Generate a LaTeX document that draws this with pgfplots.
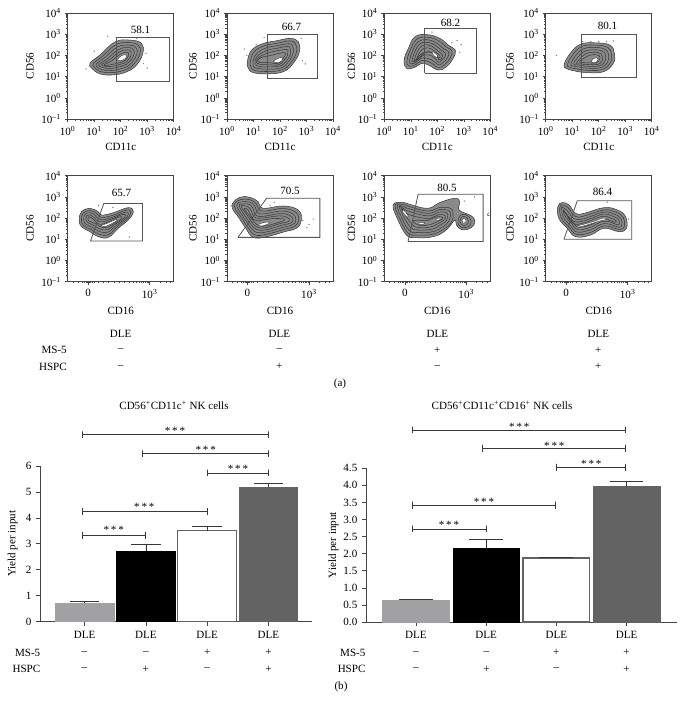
\documentclass[border=0pt]{standalone}
\usepackage{fontspec}
\setmainfont{Liberation Serif}
\usepackage{pgfplots}
\pgfplotsset{compat=1.18}

\definecolor{ink}{HTML}{383838}
\definecolor{blob}{HTML}{8A8A8A}
\definecolor{boxc}{HTML}{444444}
\definecolor{gatec}{HTML}{555555}
\definecolor{barA}{HTML}{A1A1A3}
\definecolor{barD}{HTML}{636363}

\newcommand{\dec}[1]{10\textsuperscript{#1}}
\newcommand{\fs}{\fontsize{8.3}{10}\selectfont}
% minor ticks, positions in log10 units
\newcommand{\minx}{.30,.48,.60,.70,.78,.85,.90,.95,1.30,1.48,1.60,1.70,1.78,1.85,1.90,1.95,2.30,2.48,2.60,2.70,2.78,2.85,2.90,2.95,3.30,3.48,3.60,3.70,3.78,3.85,3.90,3.95}
\newcommand{\miny}{-.70,-.52,-.40,-.30,-.22,-.15,-.10,-.05,.30,.48,.60,.70,.78,.85,.90,.95,1.30,1.48,1.60,1.70,1.78,1.85,1.90,1.95,2.30,2.48,2.60,2.70,2.78,2.85,2.90,2.95,3.30,3.48,3.60,3.70,3.78,3.85,3.90,3.95}

\pgfplotsset{
  flow/.style={
    scale only axis, width=79.5pt, height=79.5pt,
    ymin=-1, ymax=4, clip=false,
    ytick={-1,0,1,2,3,4},
    yticklabels={\dec{–1},\dec{0},\dec{1},\dec{2},\dec{3},\dec{4}},
    minor ytick=\miny,
    tick align=outside, tick pos=left,
    major tick length=2.4pt, minor tick length=1.2pt,
    axis line style={boxc,line width=.7pt},
    every tick/.style={boxc,line width=.4pt},
    tick label style={font=\fs},
    xtick style={boxc}, ytick style={boxc},
    xticklabel style={yshift=.2pt},
    yticklabel style={xshift=.8pt},
  },
  flowtop/.style={flow, xmin=0, xmax=4, xtick={0,1,2,3,4},
    xticklabels={\dec{0},\dec{1},\dec{2},\dec{3},\dec{4}},
    minor xtick=\minx, xlabel={CD11c},
    every axis x label/.style={at={(axis description cs:.5,-.265)},anchor=center,font=\fs}},
  flowbot/.style={flow, xmin=-1, xmax=4.17, xtick={0,3},
    xticklabels={0,\dec{3}},
    minor xtick={-.75,-.5,-.3,-.2,-.1,-.05,.05,.1,.2,.3,.5,.75,1,1.25,1.5,1.75,2,2.2,2.35,2.5,2.6,2.7,2.8,2.88,2.95,3.5,3.8,4},
    xlabel={CD16},
    every axis x label/.style={at={(axis description cs:.5,-.28)},anchor=center,font=\fs}},
  ylab/.style={ylabel={CD56},
    every axis y label/.style={at={(axis description cs:#1,.5)},rotate=90,anchor=center,font=\fs}},
  outer/.style={smooth cycle,tension=.7,draw=ink,fill=blob,line width=.4pt,no marks},
  ring/.style={smooth cycle,tension=.7,draw=ink,line width=.4pt,no marks},
  hot/.style={smooth cycle,tension=.7,draw=ink,fill=white,line width=.3pt,no marks},
  gate/.style={sharp plot,draw=gatec,line width=.6pt,no marks},
  dots/.style={only marks,mark=*,mark size=.25pt,gray},
  yield/.style={
    scale only axis, clip=false, axis x line=bottom, axis y line=left,
    axis line style={-,boxc,line width=.6pt},
    tick align=outside, major tick length=3pt,
    every tick/.style={boxc,line width=.5pt},
    tick label style={font=\fs},
    xtick={0,1,2,3}, xticklabels={DLE,DLE,DLE,DLE},
    xticklabel style={yshift=-.6pt},
    ymin=0, ylabel={Yield per input},
  },
  ybarA/.style={ybar,bar shift=0pt,draw=barA,fill=barA,line width=.5pt},
  ybarK/.style={ybar,bar shift=0pt,draw=black,fill=black,line width=.5pt},
  ybarW/.style={ybar,bar shift=0pt,draw=barD,fill=white,line width=.9pt},
  ybarD/.style={ybar,bar shift=0pt,draw=barD,fill=barD,line width=.5pt},
  brk/.style={sharp plot,draw=ink,line width=.6pt,no marks},
  eb/.style={error bars/.cd,y dir=plus,y explicit,
    error bar style={ink,line width=.5pt},
    error mark options={rotate=90,ink,line width=.5pt,mark size=#1}},
}

\begin{document}
\begin{tikzpicture}
\path[use as bounding box] (0,0) rectangle (513pt,531.75pt);

% ---- top row, CD56 vs CD11c (log10 units) ----
\begin{axis}[flowtop,ylab=-.356,at={(50.8pt,442.5pt)},anchor=south west]
\addplot[outer] coordinates {(.84,1.63)(1.22,2.02)(1.79,2.64)(2.35,2.72)(2.79,2.56)(2.83,2.09)(2.60,1.55)(2.23,1.23)(1.72,1.08)(1.22,1.13)(.91,1.39)};
\addplot[ring] coordinates {(.97,1.62)(1.30,1.95)(1.84,2.52)(2.35,2.60)(2.68,2.46)(2.72,2.08)(2.50,1.60)(2.17,1.32)(1.70,1.19)(1.26,1.23)(1.02,1.42)};
\addplot[ring] coordinates {(1.08,1.60)(1.38,1.88)(1.88,2.40)(2.33,2.48)(2.58,2.36)(2.61,2.06)(2.41,1.64)(2.11,1.41)(1.68,1.29)(1.30,1.32)(1.12,1.45)};
\addplot[ring] coordinates {(1.18,1.58)(1.46,1.81)(1.92,2.28)(2.31,2.37)(2.48,2.26)(2.50,2.03)(2.32,1.68)(2.05,1.50)(1.66,1.39)(1.34,1.41)(1.22,1.48)};
\addplot[ring] coordinates {(1.28,1.57)(1.54,1.76)(1.96,2.17)(2.28,2.26)(2.39,2.17)(2.39,2.00)(2.24,1.72)(1.99,1.58)(1.64,1.48)(1.38,1.49)};
\addplot[ring] coordinates {(1.38,1.57)(1.62,1.71)(2.00,2.07)(2.25,2.15)(2.30,2.07)(2.28,1.95)(2.16,1.76)(1.94,1.65)(1.62,1.56)(1.43,1.53)};
\addplot[hot] coordinates {(1.90,1.85)(2.05,2.00)(2.20,2.02)(2.20,1.90)(2.08,1.78)(1.93,1.75)};
\addplot[dots] coordinates {(.69,1.36)(1.5,2.9)(2.86,1.62)(3.0,1.4)(2.95,2.1)(1.0,2.2)(2.6,2.8)};
\addplot[gate] coordinates {(1.84,.78)(1.84,2.84)(3.84,2.84)(3.84,.78)(1.84,.78)};
\end{axis}

\begin{axis}[flowtop,ylab=-.32,at={(170.25pt,442.5pt)},anchor=south west]
\addplot[outer] coordinates {(.77,1.70)(.93,2.25)(1.37,2.56)(1.87,2.69)(2.38,2.80)(2.69,2.64)(2.73,2.17)(2.50,1.63)(2.13,1.23)(1.50,1.13)(.99,1.19)(.81,1.39)};
\addplot[ring] coordinates {(.88,1.72)(1.03,2.18)(1.42,2.46)(1.88,2.57)(2.36,2.68)(2.58,2.55)(2.62,2.15)(2.41,1.66)(2.08,1.32)(1.50,1.24)(1.03,1.30)(.90,1.47)};
\addplot[ring] coordinates {(.98,1.74)(1.13,2.10)(1.47,2.35)(1.89,2.46)(2.33,2.55)(2.47,2.45)(2.50,2.12)(2.32,1.70)(2.03,1.41)(1.50,1.35)(1.07,1.41)(.99,1.55)};
\addplot[ring] coordinates {(1.06,1.76)(1.20,2.02)(1.52,2.24)(1.90,2.34)(2.30,2.42)(2.38,2.33)(2.40,2.08)(2.24,1.73)(1.98,1.50)(1.50,1.46)(1.13,1.51)};
\addplot[ring] coordinates {(1.12,1.78)(1.28,1.97)(1.56,2.12)(1.90,2.22)(2.25,2.28)(2.30,2.18)(2.28,2.00)(2.15,1.76)(1.94,1.56)(1.52,1.56)(1.18,1.60)};
\addplot[ring] coordinates {(1.16,1.77)(1.34,1.92)(1.60,1.98)(1.90,2.08)(2.17,2.13)(2.19,2.00)(2.07,1.78)(1.92,1.62)(1.55,1.66)(1.24,1.66)};
\addplot[hot] coordinates {(1.75,1.72)(1.92,1.85)(2.08,1.90)(2.06,1.74)(1.93,1.65)};
\addplot[dots] coordinates {(.65,2.3)(.75,2.0)(1.4,2.85)(2.8,2.8)(2.85,1.75)(2.95,1.6)(1.1,2.5)};
\addplot[gate] coordinates {(1.51,.92)(1.51,2.98)(3.41,2.98)(3.41,.92)(1.51,.92)};
\end{axis}

\begin{axis}[flowtop,ylab=-.308,at={(288.2pt,442.5pt)},anchor=south west]
\addplot[outer] coordinates {(.75,1.78)(.91,2.33)(1.16,2.88)(1.62,2.98)(2.10,2.80)(2.42,2.48)(2.68,2.25)(2.60,1.86)(2.35,1.47)(2.04,1.31)(1.66,1.55)(1.41,1.63)(1.16,1.44)(.84,1.39)};
\addplot[ring] coordinates {(.86,1.78)(1.00,2.30)(1.22,2.76)(1.62,2.86)(2.03,2.70)(2.33,2.40)(2.55,2.22)(2.50,1.90)(2.28,1.57)(2.04,1.43)(1.74,1.67)(1.42,1.76)(1.18,1.56)(.92,1.50)};
\addplot[ring] coordinates {(.96,1.78)(1.08,2.25)(1.28,2.65)(1.62,2.74)(1.96,2.60)(2.23,2.32)(2.42,2.18)(2.40,1.92)(2.22,1.67)(2.04,1.55)(1.78,1.80)(1.42,1.88)(1.20,1.67)(1.00,1.60)};
\addplot[ring] coordinates {(1.05,1.78)(1.16,2.20)(1.34,2.54)(1.62,2.62)(1.90,2.50)(2.14,2.25)(2.31,2.10)(2.28,1.92)(2.15,1.76)(2.04,1.68)(1.84,1.95)(1.50,2.02)(1.25,1.80)(1.08,1.68)};
\addplot[ring] coordinates {(1.13,1.78)(1.24,2.15)(1.40,2.43)(1.62,2.50)(1.84,2.40)(2.05,2.18)(2.20,2.02)(2.18,1.90)(2.06,1.80)(1.90,2.08)(1.52,2.15)(1.28,1.92)(1.15,1.72)};
\addplot[ring] coordinates {(1.22,1.80)(1.34,2.15)(1.50,2.33)(1.65,2.36)(1.78,2.30)(1.98,2.12)(2.10,1.98)(2.08,1.88)(1.95,2.00)(1.70,2.18)(1.48,2.08)(1.30,1.85)};
\addplot[hot] coordinates {(1.80,2.18)(1.95,2.08)(2.02,1.96)(1.98,1.90)(1.85,2.02)};
\addplot[dots] coordinates {(2.75,2.7)(2.9,2.5)(2.55,2.6)(2.85,2.15)(1.8,3.1)};
\addplot[gate] coordinates {(1.52,1.17)(1.52,3.27)(3.46,3.27)(3.46,1.17)(1.52,1.17)};
\end{axis}

\begin{axis}[flowtop,ylab=-.337,at={(409.3pt,442.5pt)},anchor=south west]
\addplot[outer] coordinates {(.69,1.55)(.92,2.09)(1.32,2.53)(1.92,2.59)(2.43,2.48)(2.59,2.09)(2.55,1.63)(2.18,1.23)(1.55,1.19)(1.04,1.28)(.77,1.39)};
\addplot[ring] coordinates {(.82,1.56)(1.02,2.03)(1.38,2.43)(1.92,2.48)(2.34,2.38)(2.48,2.06)(2.44,1.65)(2.12,1.33)(1.55,1.30)(1.10,1.38)(.88,1.46)};
\addplot[ring] coordinates {(.95,1.58)(1.12,1.98)(1.44,2.32)(1.92,2.37)(2.25,2.28)(2.37,2.02)(2.33,1.67)(2.06,1.42)(1.55,1.40)(1.16,1.47)(.99,1.52)};
\addplot[ring] coordinates {(1.06,1.60)(1.22,1.93)(1.50,2.21)(1.92,2.26)(2.16,2.18)(2.26,1.98)(2.22,1.69)(2.00,1.50)(1.56,1.49)(1.22,1.55)};
\addplot[ring] coordinates {(1.16,1.63)(1.32,1.88)(1.56,2.10)(1.92,2.15)(2.08,2.08)(2.15,1.94)(2.11,1.71)(1.95,1.57)(1.58,1.57)(1.28,1.60)};
\addplot[ring] coordinates {(1.28,1.68)(1.42,1.85)(1.62,1.99)(1.90,2.04)(2.02,1.98)(2.05,1.88)(2.00,1.73)(1.90,1.64)(1.60,1.65)};
\addplot[hot] coordinates {(1.72,1.72)(1.85,1.88)(1.96,1.85)(1.94,1.72)(1.84,1.66)};
\addplot[dots] coordinates {(.4,2.0)(1.4,2.65)(1.7,2.65)(2.0,2.65)(2.3,2.65)(2.55,2.68)};
\addplot[gate] coordinates {(1.35,.95)(1.35,2.98)(3.43,2.98)(3.43,.95)(1.35,.95)};
\end{axis}

% ---- bottom row, CD56 vs CD16 ----
\begin{axis}[flowbot,ylab=-.356,at={(50.8pt,320.5pt)},anchor=south west]
\addplot[outer] coordinates {(-.44,1.91)(-.33,2.30)(.08,2.46)(.49,2.30)(.65,2.14)(1.22,2.25)(1.95,2.49)(2.20,2.30)(1.95,1.91)(1.46,1.52)(.98,1.09)(.49,1.12)(.08,1.36)(-.33,1.59)};
\addplot[ring] coordinates {(-.33,1.92)(-.24,2.24)(.08,2.35)(.40,2.22)(.62,2.03)(1.20,2.13)(1.87,2.38)(2.08,2.26)(1.86,1.92)(1.40,1.58)(.98,1.22)(.52,1.24)(.14,1.46)(-.24,1.66)};
\addplot[ring] coordinates {(-.22,1.93)(-.15,2.18)(.08,2.25)(.32,2.14)(.60,1.92)(1.16,2.03)(1.78,2.27)(1.96,2.20)(1.76,1.92)(1.33,1.63)(.98,1.34)(.55,1.36)(.20,1.56)(-.14,1.73)};
\addplot[ring] coordinates {(-.12,1.94)(-.07,2.12)(.08,2.15)(.25,2.06)(.56,1.82)(1.10,1.94)(1.65,2.16)(1.82,2.12)(1.64,1.91)(1.26,1.68)(.96,1.46)(.58,1.48)(.26,1.66)(-.05,1.80)};
\addplot[ring] coordinates {(-.02,1.95)(0,2.05)(.10,2.05)(.30,1.90)(.56,1.70)(1.05,1.85)(1.50,2.05)(1.65,2.03)(1.50,1.88)(1.18,1.70)(.92,1.56)(.62,1.58)(.34,1.74)(.05,1.85)};
\addplot[hot] coordinates {(.62,1.64)(1.00,1.78)(1.30,1.92)(1.42,1.90)(1.15,1.74)(.90,1.62)(.68,1.60)};
\addplot[dots] coordinates {(2.0,1.1)(1.2,2.5)(.5,2.6)};
\addplot[gate] coordinates {(.11,.92)(.76,2.69)(2.65,2.69)(2.65,.92)(.11,.92)};
\end{axis}

\begin{axis}[flowbot,ylab=-.32,at={(170.25pt,320.5pt)},anchor=south west]
\addplot[outer] coordinates {(-.73,2.69)(-.37,2.98)(.11,2.98)(.52,2.77)(.76,2.46)(1.74,2.57)(2.47,2.38)(2.63,1.91)(2.39,1.52)(1.82,1.36)(.93,1.12)(.28,1.09)(-.13,1.59)(-.46,2.07)(-.70,2.38)};
\addplot[ring] coordinates {(-.62,2.68)(-.34,2.87)(.10,2.87)(.42,2.68)(.70,2.33)(1.70,2.45)(2.34,2.28)(2.50,1.91)(2.30,1.60)(1.80,1.47)(.95,1.24)(.35,1.21)(-.02,1.62)(-.34,2.08)(-.58,2.40)};
\addplot[ring] coordinates {(-.51,2.66)(-.30,2.76)(.08,2.76)(.34,2.58)(.62,2.20)(1.65,2.33)(2.20,2.20)(2.36,1.92)(2.20,1.68)(1.76,1.57)(.96,1.35)(.42,1.33)(.08,1.65)(-.23,2.10)(-.46,2.42)};
\addplot[ring] coordinates {(-.40,2.63)(-.24,2.66)(.05,2.66)(.26,2.48)(.52,2.08)(1.60,2.21)(2.06,2.12)(2.22,1.92)(2.08,1.75)(1.70,1.67)(.96,1.46)(.48,1.45)(.18,1.68)(-.13,2.12)(-.35,2.44)};
\addplot[ring] coordinates {(-.30,2.58)(-.18,2.58)(.02,2.54)(.18,2.36)(.44,2.00)(1.50,2.10)(1.92,2.04)(2.05,1.92)(1.94,1.81)(1.62,1.75)(.96,1.56)(.54,1.55)(.26,1.74)(-.03,2.15)(-.25,2.44)};
\addplot[ring] coordinates {(-.16,2.45)(.02,2.40)(.10,2.25)(.38,1.90)(1.20,1.97)(1.70,1.97)(1.80,1.90)(1.60,1.82)(.98,1.65)(.60,1.63)(.32,1.82)(.02,2.20)};
\addplot[hot] coordinates {(.55,1.70)(.85,1.80)(1.10,1.78)(.85,1.66)(.62,1.63)};
\addplot[dots] coordinates {(1.3,2.75)(1.1,2.6)(2.7,1.9)(2.9,1.55)(3.2,1.95)(3.0,1.7)(-.8,2.6)};
\addplot[gate] coordinates {(-.47,1.09)(.93,2.93)(3.53,2.93)(3.53,1.09)(-.47,1.09)};
\end{axis}

\begin{axis}[flowbot,ylab=-.308,at={(288.2pt,320.5pt)},anchor=south west]
\addplot[outer] coordinates {(-.57,2.62)(-.08,2.74)(.33,2.62)(1.14,2.46)(1.71,2.73)(2.44,2.93)(2.68,2.77)(2.65,2.38)(3.25,2.10)(3.41,1.83)(3.25,1.55)(2.81,1.44)(2.52,1.67)(2.44,1.91)(2.03,1.44)(1.38,1.12)(.49,1.08)(.08,1.20)(-.33,1.91)};
\addplot[ring] coordinates {(-.47,2.60)(-.08,2.64)(.30,2.52)(1.14,2.33)(1.72,2.50)(2.25,2.45)(2.35,2.20)(2.30,1.85)(1.98,1.53)(1.36,1.24)(.52,1.20)(.15,1.30)(-.22,1.92)};
\addplot[ring] coordinates {(-.37,2.58)(-.08,2.54)(.27,2.42)(1.14,2.22)(1.70,2.40)(2.15,2.35)(2.22,2.15)(2.16,1.88)(1.90,1.62)(1.34,1.35)(.55,1.32)(.22,1.42)(-.12,1.95)};
\addplot[ring] coordinates {(-.27,2.54)(-.07,2.45)(.25,2.30)(1.14,2.10)(1.68,2.28)(2.03,2.25)(2.10,2.10)(2.04,1.90)(1.80,1.71)(1.30,1.47)(.60,1.44)(.30,1.55)(-.02,2.00)};
\addplot[ring] coordinates {(-.17,2.48)(-.04,2.36)(.25,2.15)(1.12,1.98)(1.62,2.15)(1.92,2.14)(1.98,2.03)(1.90,1.90)(1.70,1.78)(1.26,1.58)(.68,1.55)(.38,1.68)(.06,2.08)};
\addplot[ring] coordinates {(.40,1.85)(.70,1.90)(1.10,1.88)(1.50,2.05)(1.80,2.05)(1.84,1.97)(1.62,1.85)(1.20,1.68)(.72,1.66)};
\addplot[hot] coordinates {(-.10,2.38)(.05,2.28)(.18,2.05)(.05,2.10)(-.08,2.25)};
\addplot[hot] coordinates {(1.50,1.96)(1.72,2.00)(1.78,1.96)(1.60,1.90)};
\addplot[hot] coordinates {(.68,1.76)(.92,1.80)(.98,1.74)(.75,1.70)};
\addplot[ring] coordinates {(2.60,1.85)(2.70,2.12)(3.00,2.15)(3.22,1.90)(3.15,1.62)(2.85,1.55)(2.65,1.65)};
\addplot[ring] coordinates {(2.70,1.87)(2.78,2.05)(2.98,2.05)(3.10,1.88)(3.04,1.70)(2.85,1.65)(2.74,1.72)};
\addplot[hot] coordinates {(2.78,1.88)(2.87,1.98)(2.98,1.94)(2.98,1.80)(2.85,1.76)};
\addplot[smooth,draw=ink,line width=.4pt,no marks] coordinates {(4.09,2.25)(4.03,2.14)(4.13,2.12)};
\addplot[dots] coordinates {(3.4,3.0)(2.9,2.8)};
\addplot[gate] coordinates {(.16,.89)(.65,3.12)(3.82,3.12)(3.82,.89)(.16,.89)};
\end{axis}

\begin{axis}[flowbot,ylab=-.337,at={(409.3pt,320.5pt)},anchor=south west]
\addplot[outer] coordinates {(-.41,2.54)(-.20,2.73)(.13,2.62)(.46,2.22)(.86,2.22)(1.84,2.49)(2.49,2.38)(2.89,2.07)(2.94,1.52)(2.57,1.36)(1.84,1.52)(1.19,1.20)(.46,1.12)(.05,1.52)(-.36,1.99)};
\addplot[ring] coordinates {(-.31,2.52)(-.20,2.62)(.08,2.50)(.43,2.08)(.88,2.10)(1.82,2.38)(2.42,2.28)(2.78,2.02)(2.82,1.58)(2.55,1.47)(1.84,1.63)(1.18,1.32)(.50,1.23)(.14,1.57)(-.25,2.02)};
\addplot[ring] coordinates {(-.22,2.48)(-.18,2.50)(.02,2.38)(.40,1.96)(.90,1.98)(1.80,2.28)(2.35,2.18)(2.67,1.97)(2.70,1.64)(2.52,1.58)(1.84,1.74)(1.16,1.44)(.53,1.34)(.22,1.63)(-.15,2.05)};
\addplot[ring] coordinates {(-.14,2.38)(-.04,2.26)(.36,1.85)(.92,1.88)(1.78,2.18)(2.28,2.08)(2.55,1.92)(2.58,1.72)(2.48,1.69)(1.84,1.85)(1.14,1.55)(.56,1.45)(.30,1.70)(-.06,2.10)};
\addplot[ring] coordinates {(-.04,2.25)(.34,1.75)(.90,1.78)(1.76,2.08)(2.20,1.98)(2.42,1.88)(2.36,1.80)(1.84,1.93)(1.12,1.66)(.60,1.56)(.36,1.76)(.02,2.14)};
\addplot[hot] coordinates {(.52,1.62)(.90,1.72)(1.40,1.86)(1.80,2.00)(2.05,1.94)(1.78,1.90)(1.10,1.70)(.65,1.58)};
\addplot[dots] coordinates {(2.0,2.75)(3.05,1.95)};
\addplot[gate] coordinates {(-.11,1.0)(.54,2.82)(3.19,2.82)(3.19,1.0)(-.11,1.0)};
\end{axis}

% ---- bars, left ----
\begin{axis}[yield,width=204pt,height=116.8pt,at={(30pt,65.5pt)},anchor=south west,
  xmin=-.726,xmax=3.71,ymax=6,ytick={0,1,2,3,4,5,6},
  yticklabel style={/pgf/number format/assume math mode=true},
  every axis y label/.style={at={(axis description cs:-.1,.5)},rotate=90,anchor=center,font=\fs}]
\addplot[ybarA,bar width=44pt,eb=11.2pt] coordinates {(0,.705) +- (0,.075)};
\addplot[ybarK,bar width=44pt,eb=11.2pt] coordinates {(1,2.72) +- (0,.27)};
\addplot[ybarW,bar width=44pt,eb=11.2pt] coordinates {(2,3.50) +- (0,.17)};
\addplot[ybarD,bar width=44pt,eb=11.2pt] coordinates {(3,5.17) +- (0,.15)};
\addplot[brk] coordinates {(-.04,7.07)(-.04,7.33)(-.04,7.20)(3,7.20)(3,7.33)(3,7.07)};
\addplot[brk] coordinates {(.95,6.34)(.95,6.60)(.95,6.47)(3,6.47)(3,6.60)(3,6.34)};
\addplot[brk] coordinates {(2,5.60)(2,5.86)(2,5.73)(3,5.73)(3,5.86)(3,5.60)};
\addplot[brk] coordinates {(-.04,4.11)(-.04,4.37)(-.04,4.24)(2,4.24)(2,4.37)(2,4.11)};
\addplot[brk] coordinates {(-.04,3.20)(-.04,3.46)(-.04,3.33)(1,3.33)(1,3.46)(1,3.20)};
\end{axis}

% ---- bars, right ----
\begin{axis}[yield,width=233pt,height=115.3pt,at={(274.5pt,65.25pt)},anchor=south west,
  xmin=-.712,xmax=3.714,ymax=4.5,ytick={0,.5,1,1.5,2,2.5,3,3.5,4,4.5},
  yticklabel style={/pgf/number format/assume math mode=true,/pgf/number format/fixed,/pgf/number format/fixed zerofill,/pgf/number format/precision=1},
  every axis y label/.style={at={(axis description cs:-.105,.5)},rotate=90,anchor=center,font=\fs}]
\addplot[ybarA,bar width=50pt,eb=12.7pt] coordinates {(0,.635) +- (0,.035)};
\addplot[ybarK,bar width=50pt,eb=12.7pt] coordinates {(1,2.16) +- (0,.25)};
\addplot[ybarW,bar width=50pt,eb=12.7pt] coordinates {(2,1.875) +- (0,.025)};
\addplot[ybarD,bar width=50pt,eb=12.7pt] coordinates {(3,3.96) +- (0,.16)};
\addplot[brk] coordinates {(-.05,5.52)(-.05,5.72)(-.05,5.62)(2.99,5.62)(2.99,5.72)(2.99,5.52)};
\addplot[brk] coordinates {(.95,4.99)(.95,5.19)(.95,5.09)(2.99,5.09)(2.99,5.19)(2.99,4.99)};
\addplot[brk] coordinates {(2,4.43)(2,4.63)(2,4.53)(2.99,4.53)(2.99,4.63)(2.99,4.43)};
\addplot[brk] coordinates {(-.05,3.32)(-.05,3.52)(-.05,3.42)(1.99,3.42)(1.99,3.52)(1.99,3.32)};
\addplot[brk] coordinates {(-.05,2.62)(-.05,2.82)(-.05,2.72)(1,2.72)(1,2.82)(1,2.62)};
\end{axis}

% text set in picture pixels, y downwards
\begin{scope}[x=.75pt,y=-.75pt,yshift=531.75pt,every node/.style={font=\fs,inner sep=0pt}]
\node at (140.5,29.5) {58.1};
\node at (291.5,27) {66.7};
\node at (450.5,23) {68.2};
\node at (607.5,26) {80.1};
\node at (121.5,192.5) {65.7};
\node at (290,191) {70.5};
\node at (447,187.5) {80.5};
\node at (602.5,192) {86.4};

\foreach \x in {120.7,279.3,437.3,598.3} \node at (\x,334) {DLE};
\node[anchor=east] at (67,350) {MS-5};
\node[anchor=east] at (67,366.7) {HSPC};
\foreach \x/\a/\b in {120.7/--/--,279.3/--/+,437.3/+/--,598.3/+/+} {
  \node at (\x,350) {\a};
  \node at (\x,366.7) {\b};
}
\node at (340,384) {(a)};

\node at (174,405.7) {CD56\textsuperscript{+}CD11c\textsuperscript{+} NK cells};
\node at (502,405.7) {CD56\textsuperscript{+}CD11c\textsuperscript{+}CD16\textsuperscript{+} NK cells};

\node[anchor=east] at (40.5,652.7) {MS-5};
\node[anchor=east] at (40.5,669) {HSPC};
\foreach \x/\a/\b in {84.5/--/--,145.8/--/+,207.2/+/--,268.4/+/+} {
  \node at (\x,652.7) {\a};
  \node at (\x,669) {\b};
}
\node[anchor=east] at (365.7,652.7) {MS-5};
\node[anchor=east] at (365.7,669) {HSPC};
\foreach \x/\a/\b in {416/--/--,486.5/--/+,556.3/+/--,626.5/+/+} {
  \node at (\x,652.7) {\a};
  \node at (\x,669) {\b};
}
\node at (341,687) {(b)};

\foreach \x/\y in {175/429.3,205.7/448.7,238/467.7,144.3/505.7,113.7/529,
                   519.3/425.3,554.3/444.7,591.3/462.7,484/500.3,449/524}
  \node at (\x,\y+1.3) {*\,*\,*};
\end{scope}
\end{tikzpicture}
\end{document}
